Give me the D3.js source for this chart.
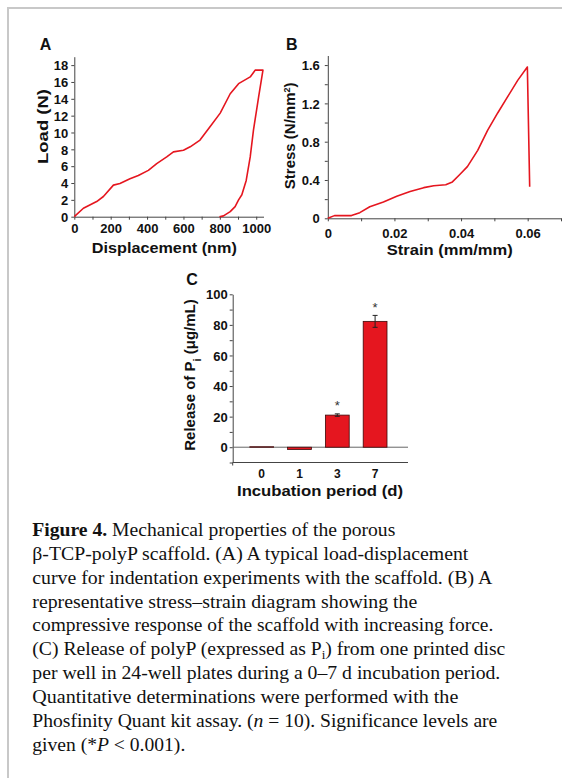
<!DOCTYPE html>
<html>
<head>
<meta charset="utf-8">
<script src="https://cdn.jsdelivr.net/npm/d3@7"></script>
<style>
  body { margin: 0; background: #fff; }
  svg { display: block; }
  .tick text { font-family: "Liberation Sans", Arial, sans-serif; font-weight: bold; }
</style>
</head>
<body>
<div id="fig"></div>
<script>
// Panel A: load vs displacement (loading, then unloading branch)
var dispLoad = [0, 50, 123, 160, 215, 251, 306, 352, 407, 453, 508, 545, 600, 637, 691, 747, 802, 857, 903, 967, 994, 1037];
var loadLoad = [0, 1, 1.8, 2.4, 3.75, 3.95, 4.5, 4.9, 5.5, 6.3, 7.1, 7.7, 7.9, 8.3, 9.1, 10.7, 12.3, 14.6, 15.8, 16.6, 17.4, 17.4];
var dispUnload = [1037, 1013, 985, 967, 945, 921, 903, 884, 857, 820, 798];
var loadUnload = [17.4, 14.2, 10.3, 7.1, 4.3, 2.6, 2.0, 1.2, 0.6, 0.1, 0];

// Panel B: stress-strain
var strain = [0, 0.002, 0.0071, 0.0096, 0.0126, 0.0167, 0.0207, 0.0247, 0.0288, 0.0318, 0.0354, 0.0374, 0.0394, 0.0419, 0.045, 0.048, 0.051, 0.054, 0.057, 0.0599, 0.0606];
var stress = [0, 0.028, 0.028, 0.059, 0.12, 0.17, 0.23, 0.28, 0.32, 0.34, 0.35, 0.38, 0.45, 0.54, 0.71, 0.92, 1.10, 1.27, 1.44, 1.58, 0.33];

// Panel C: release of Pi
var days = ["0", "1", "3", "7"];
var release = [0.3, -1.5, 21, 82.3];
var releaseErr = [0, 0, 0.8, 3.9];
var signif = [false, false, true, true];

var captionLines = [
  [["b", "Figure 4."], ["", " Mechanical properties of the porous"]],
  [["", "β-TCP-polyP scaffold. (A) A typical load-displacement"]],
  [["", "curve for indentation experiments with the scaffold. (B) A"]],
  [["", "representative stress–strain diagram showing the"]],
  [["", "compressive response of the scaffold with increasing force."]],
  [["", "(C) Release of polyP (expressed as P"], ["sub", "i"], ["", ") from one printed disc"]],
  [["", "per well in 24-well plates during a 0–7 d incubation period."]],
  [["", "Quantitative determinations were performed with the"]],
  [["", "Phosfinity Quant kit assay. ("], ["i", "n"], ["", " = 10). Significance levels are"]],
  [["", "given (*"], ["i", "P"], ["", " < 0.001)."]]
];
var captionWidths = [363, 436, 460, 385, 461, 473, 468, 426, 465, 153];

var W = 562, H = 778;
var red = "#e5161f", axisCol = "#444";
var sans = '"Liberation Sans", Arial, sans-serif';

var svg = d3.select('#fig').append('svg').attr('width', W).attr('height', H);

// grey frame
svg.append('path')
  .attr('d', `M8,${H} L8,8 L${W},8`)
  .attr('fill', 'none').attr('stroke', '#c8c8c8').attr('stroke-width', 2);

function styleAxis(g, size) {
  g.selectAll('path.domain').attr('stroke', axisCol);
  g.selectAll('.tick line').attr('stroke', axisCol);
  g.selectAll('.tick text').attr('font-size', size || 13).attr('fill', '#111');
}

function label(x, y, txt, size, rot, len) {
  var t = svg.append('text')
    .attr('transform', `translate(${x},${y})` + (rot ? ` rotate(${rot})` : ''))
    .attr('text-anchor', 'middle')
    .attr('font-family', sans).attr('font-weight', 'bold')
    .attr('font-size', size).attr('fill', '#111')
    .text(txt);
  if (len) t.attr('textLength', len).attr('lengthAdjust', 'spacingAndGlyphs');
  return t;
}

// ---------- Panel A ----------
var xA = d3.scaleLinear().domain([0, 1040]).range([74.3, 263.5]);
var yA = d3.scaleLinear().domain([0, 19]).range([216.7, 56.7]);

svg.append('g').attr('transform', `translate(0,${yA(0)})`)
  .call(d3.axisBottom(xA).tickValues(d3.range(0, 1001, 100)).tickSize(3).tickSizeOuter(0).tickPadding(4.5)
    .tickFormat(d => d % 200 === 0 ? d : ''))
  .call(g => styleAxis(g, 13));
svg.append('g').attr('transform', `translate(${xA(0)},0)`)
  .call(d3.axisLeft(yA).tickValues(d3.range(0, 19, 2)).tickSize(3).tickSizeOuter(0).tickPadding(3)
    .tickFormat(d3.format('d')))
  .call(g => styleAxis(g, 13))
  .call(g => g.selectAll('.tick text').attr('dy', '0.36em'));

var lineA = d3.line().x(d => xA(d[0])).y(d => yA(d[1]));
var ptsA = dispLoad.map((d, i) => [d, loadLoad[i]]).concat(dispUnload.map((d, i) => [d, loadUnload[i]]));
svg.append('path').datum(ptsA).attr('d', lineA)
  .attr('fill', 'none').attr('stroke', red).attr('stroke-width', 1.6).attr('stroke-linejoin', 'round');

label(45.5, 50, 'A', 16);
label(164.3, 252.7, 'Displacement (nm)', 15, 0, 145);
label(47.7, 126.5, 'Load (N)', 15, -90, 75);

// ---------- Panel B ----------
var xB = d3.scaleLinear().domain([0, 0.07]).range([327.8, 561]);
var yB = d3.scaleLinear().domain([0, 1.7]).range([218.3, 55.5]);

svg.append('g').attr('transform', `translate(0,${yB(0)})`)
  .call(d3.axisBottom(xB).tickValues(d3.range(0, 0.0701, 0.01)).tickSize(3).tickSizeOuter(0).tickPadding(7)
    .tickFormat((d, i) => i % 2 === 0 ? (i === 0 ? '0' : d3.format('.2f')(d)) : ''))
  .call(g => styleAxis(g, 13));
svg.append('g').attr('transform', `translate(${xB(0)},0)`)
  .call(d3.axisLeft(yB).tickValues(d3.range(0, 1.61, 0.2)).tickSize(3).tickSizeOuter(0).tickPadding(5)
    .tickFormat((d, i) => i % 2 === 0 ? (i === 0 ? '0' : d3.format('.1f')(d)) : ''))
  .call(g => styleAxis(g, 13))
  .call(g => g.selectAll('.tick text').attr('dy', '0.36em'));

var ptsB = strain.map((d, i) => [d, stress[i]]);
svg.append('path').datum(ptsB)
  .attr('d', d3.line().x(d => xB(d[0])).y(d => yB(d[1])))
  .attr('fill', 'none').attr('stroke', red).attr('stroke-width', 1.6).attr('stroke-linejoin', 'round');

label(291.7, 49.5, 'B', 16);
label(449.7, 255, 'Strain (mm/mm)', 15, 0, 126);
var stressLab = label(295, 135.8, '', 15, -90);
stressLab.append('tspan').text('Stress (N/mm');
stressLab.append('tspan').attr('font-size', 9).attr('dy', -5).text('2');
stressLab.append('tspan').attr('dy', 5).text(')');

// ---------- Panel C ----------
var xC = d3.scaleBand().domain(days).range([242.8, 394]).paddingInner(0.37).paddingOuter(0.185);
var yC = d3.scaleLinear().domain([-10, 100]).range([462.5, 294.3]);

svg.append('g').attr('transform', `translate(0,${yC(-10)})`)
  .call(d3.axisBottom(xC).tickSize(0).tickPadding(7))
  .call(g => styleAxis(g, 12))
  .call(g => g.select('path.domain').attr('d', `M232.7,0V3M232.7,0H408`));
svg.append('g').attr('transform', `translate(232.7,0)`)
  .call(d3.axisLeft(yC).tickValues(d3.range(-10, 101, 10)).tickSize(3).tickSizeOuter(0).tickPadding(2)
    .tickFormat(d => d % 20 === 0 ? d : ''))
  .call(g => styleAxis(g, 13))
  .call(g => g.selectAll('.tick text').attr('dy', '0.36em'));

// zero line
svg.append('line')
  .attr('x1', 232.7).attr('x2', 408).attr('y1', yC(0)).attr('y2', yC(0))
  .attr('stroke', '#666').attr('stroke-width', 1);

svg.append('g').selectAll('rect')
  .data(release)
  .join('rect')
  .attr('x', (d, i) => xC(days[i]))
  .attr('width', xC.bandwidth())
  .attr('y', d => yC(Math.max(0, d)))
  .attr('height', d => Math.abs(yC(d) - yC(0)))
  .attr('fill', red).attr('stroke', '#3b0a0a').attr('stroke-width', 0.8);

var errG = svg.append('g');
release.forEach((v, i) => {
  if (!releaseErr[i]) return;
  var cx = xC(days[i]) + xC.bandwidth() / 2;
  errG.append('path')
    .attr('d', `M${cx - 2.5},${yC(v + releaseErr[i])}H${cx + 2.5}M${cx},${yC(v + releaseErr[i])}V${yC(v - releaseErr[i])}M${cx - 2.5},${yC(v - releaseErr[i])}H${cx + 2.5}`)
    .attr('stroke', '#222').attr('stroke-width', 1).attr('fill', 'none');
});

svg.append('g').selectAll('text')
  .data(release.map((v, i) => ({ v: v, e: releaseErr[i], s: signif[i], d: days[i] })).filter(d => d.s))
  .join('text')
  .attr('x', d => xC(d.d) + xC.bandwidth() / 2)
  .attr('y', d => yC(d.v + d.e) + 3)
  .attr('dy', '-0.5em')
  .attr('text-anchor', 'middle')
  .attr('font-family', sans).attr('font-size', 13).attr('fill', '#333')
  .text('*');

label(320, 496, 'Incubation period (d)', 14.5, 0, 166);
label(192, 285, 'C', 16);
var relLab = label(195, 375, '', 15, -90);
relLab.append('tspan').text('Release of P');
relLab.append('tspan').attr('font-size', 11).attr('dy', 6).text('i');
relLab.append('tspan').attr('dy', -6).text('  (μg/mL)');

// ---------- Caption ----------
var cap = svg.append('g').attr('font-family', '"Liberation Serif", "Times New Roman", serif')
  .attr('font-size', 18).attr('fill', '#111');
captionLines.forEach((parts, li) => {
  var t = cap.append('text').attr('x', 32.3).attr('y', 536 + li * 23.85)
    .attr('textLength', captionWidths[li]).attr('lengthAdjust', 'spacingAndGlyphs');
  parts.forEach(p => {
    var ts = t.append('tspan').text(p[1]);
    if (p[0] === 'b') ts.attr('font-weight', 'bold');
    if (p[0] === 'i') ts.attr('font-style', 'italic');
    if (p[0] === 'sub') { ts.attr('font-size', 12).attr('dy', 4); }
  });
  // restore baseline after subscript
  t.selectAll('tspan').each(function(d, k, nodes) {
    if (k > 0 && nodes[k - 1].getAttribute('dy') === '4') d3.select(this).attr('dy', -4);
  });
});
</script>
</body>
</html>
